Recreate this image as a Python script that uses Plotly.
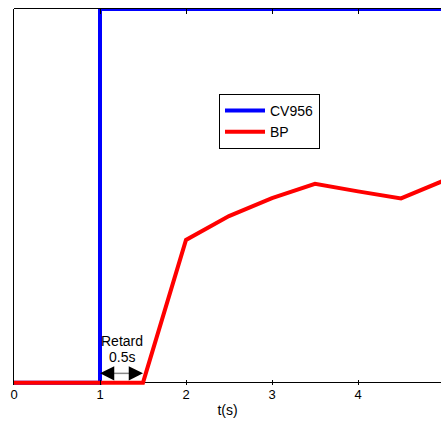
import plotly.graph_objects as go

# Data
t_cv = [0, 1, 1, 5]
cv956 = [0, 0, 1, 1]
t_bp = [0, 1, 1.5, 2, 2.5, 3, 3.5, 4, 4.5, 5]
bp = [0, 0, 0, 0.382, 0.446, 0.494, 0.532, 0.512, 0.493, 0.541]
x_ticks = [0, 1, 2, 3, 4]
x_title = "t(s)"
retard_text = ["Retard", "0.5s"]
delay_start, delay_end = 1.0, 1.5

FONT = "Liberation Sans, Arial, Helvetica, sans-serif"

fig = go.Figure()
fig.add_trace(go.Scatter(x=t_cv, y=cv956, mode="lines", name="CV956",
                         line=dict(color="#0000ff", width=4)))
fig.add_trace(go.Scatter(x=t_bp, y=bp, mode="lines", name="BP",
                         line=dict(color="#ff0000", width=4)))

# delay arrow: gray shaft + two black heads
yarr = 0.025
fig.add_shape(type="line", xref="x", yref="y", x0=delay_start + 0.08, x1=delay_end - 0.08,
              y0=yarr, y1=yarr, line=dict(color="#888888", width=1.5), layer="above")
for tip, tail in [(delay_start, delay_start + 0.13), (delay_end, delay_end - 0.13)]:
    fig.add_annotation(x=tip, y=yarr, ax=tail, ay=yarr, axref="x", ayref="y",
                       xref="x", yref="y", text="", showarrow=True,
                       arrowhead=2, arrowsize=1.9, arrowwidth=1.5, arrowcolor="black",
                       standoff=0, startstandoff=0)
fig.add_annotation(x=1.252, y=0.112, xref="x", yref="y", text=retard_text[0],
                   showarrow=False, font=dict(family=FONT, size=14, color="black"))
fig.add_annotation(x=1.252, y=0.069, xref="x", yref="y", text=retard_text[1],
                   showarrow=False, font=dict(family=FONT, size=14, color="black"))

# top border (crisp on pixel row above the plot area)
top_border_y = 1 + 0.5 / 376
fig.add_shape(type="line", xref="paper", yref="paper", x0=0, x1=1,
              y0=top_border_y, y1=top_border_y,
              line=dict(color="black", width=1), layer="above")

fig.update_layout(
    width=441, height=423,
    margin=dict(l=14, r=0, t=9, b=38),
    plot_bgcolor="white", paper_bgcolor="white",
    font=dict(family=FONT, size=13, color="black"),
    legend=dict(x=(219 - 14) / 427, y=1 - (94 - 9) / 376, xanchor="left", yanchor="top",
                bordercolor="black", borderwidth=1, bgcolor="white",
                font=dict(family=FONT, size=14, color="black"),
                itemwidth=40, tracegroupgap=0),
    showlegend=True,
)
fig.update_xaxes(range=[0, 427 / 86], showline=False, showgrid=False, zeroline=False,
                 ticks="inside", ticklen=5, tickcolor="black", tickwidth=1,
                 tickvals=x_ticks, ticktext=[str(v) for v in x_ticks],
                 mirror="ticks",
                 tickfont=dict(family=FONT, size=13, color="black"),
                 title=dict(text=x_title, standoff=4,
                            font=dict(family=FONT, size=14, color="black")))
fig.update_yaxes(range=[-2.3 / 373.7, 1], showline=True, linecolor="black", linewidth=1,
                 showgrid=False, zeroline=True, zerolinecolor="black", zerolinewidth=1,
                 showticklabels=False, ticks="", layer="below traces")

fig.write_html("out.html", config={"displayModeBar": False},
               post_script="document.body.style.margin='0';document.body.style.overflow='hidden';")
